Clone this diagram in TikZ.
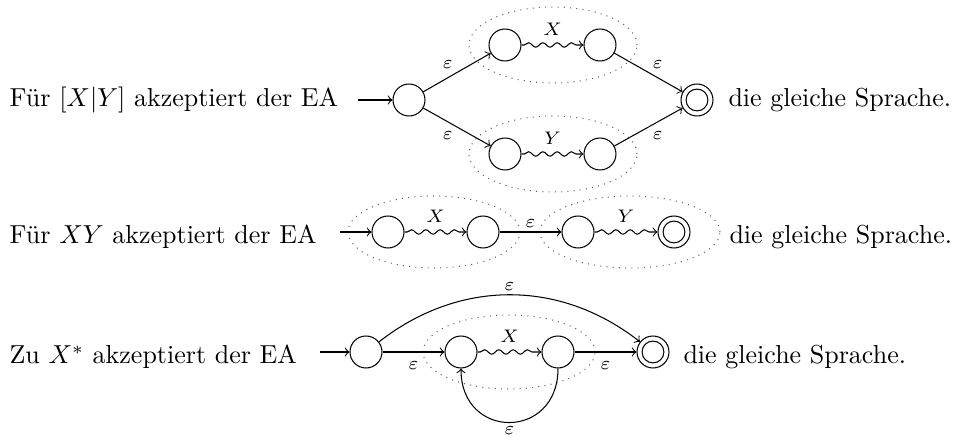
\documentclass[tikz,border=0pt]{standalone}
\usetikzlibrary{decorations.pathmorphing}
\begin{document}
\begin{tikzpicture}[x=0.3846pt,y=0.3846pt,
  state/.style={circle,draw,minimum size=12.3pt,inner sep=0pt},
  accstate/.style={state,path picture={\draw (path picture bounding box.center) circle[radius=4.2pt];}},
  wave/.style={->,decorate,decoration={snake,amplitude=0.85pt,segment length=5.5pt,pre length=1pt,post length=2.5pt}},
  lbl/.style={font=\scriptsize,inner sep=1.5pt},
  grp/.style={dotted,black!60},
  txt/.style={anchor=base west,inner sep=0pt}]
\useasboundingbox (0,0) rectangle (954,-444);
% ---------- row 1 ----------
\draw[grp] (553,-45) ellipse [x radius=84, y radius=38];
\draw[grp] (553,-154) ellipse [x radius=84, y radius=38];
\node[txt] (t1) at (9,-107) {Für $[X|Y]$ akzeptiert der EA};
\coordinate (i1) at (358,-100);
\node[state] (s1) at (409,-100) {};
\node[state] (a1) at (505,-45) {};
\node[state] (a2) at (600,-45) {};
\node[state] (b1) at (505,-154) {};
\node[state] (b2) at (600,-154) {};
\node[accstate] (f1) at (697,-100) {};
\node[txt] (u1) at (728,-107) {die gleiche Sprache.};
\draw[->] (i1) -- (s1);
\draw[->] (s1) -- node[lbl,above left]{$\varepsilon$} (a1);
\draw[->] (s1) -- node[lbl,below left]{$\varepsilon$} (b1);
\draw[wave] (a1) -- node[lbl,above=2pt]{$X$} (a2);
\draw[wave] (b1) -- node[lbl,above=2pt]{$Y$} (b2);
\draw[->] (a2) -- node[lbl,above right]{$\varepsilon$} (f1);
\draw[->] (b2) -- node[lbl,below right]{$\varepsilon$} (f1);
% ---------- row 2 ----------
\draw[grp] (434,-232) ellipse [x radius=86, y radius=36];
\draw[grp] (630,-232) ellipse [x radius=90, y radius=36];
\node[txt] (t2) at (9,-244) {Für $XY$ akzeptiert der EA};
\coordinate (i2) at (340,-232);
\node[state] (c1) at (388,-232) {};
\node[state] (c2) at (483,-232) {};
\node[state] (c3) at (578,-232) {};
\node[accstate] (f2) at (674,-232) {};
\node[txt] (u2) at (729,-244) {die gleiche Sprache.};
\draw[->] (i2) -- (c1);
\draw[wave] (c1) -- node[lbl,above=2pt]{$X$} (c2);
\draw[->] (c2) -- node[lbl,above]{$\varepsilon$} (c3);
\draw[wave] (c3) -- node[lbl,above=2pt]{$Y$} (f2);
% ---------- row 3 ----------
\draw[grp] (509,-352) ellipse [x radius=86, y radius=37];
\node[txt] (t3) at (9,-364) {Zu $X^*$ akzeptiert der EA};
\coordinate (i3) at (320,-352);
\node[state] (d0) at (366,-352) {};
\node[state] (d1) at (461,-352) {};
\node[state] (d2) at (558,-352) {};
\node[accstate] (f3) at (653,-352) {};
\node[txt] (u3) at (683,-364) {die gleiche Sprache.};
\draw[->] (i3) -- (d0);
\draw[->] (d0) -- node[lbl,below=2pt]{$\varepsilon$} (d1);
\draw[wave] (d1) -- node[lbl,above=2pt]{$X$} (d2);
\draw[->] (d2) -- node[lbl,below=2pt]{$\varepsilon$} (f3);
\draw[->] (d0) to[bend left=38] node[lbl,above]{$\varepsilon$} (f3);
\draw[->] (d2) to[out=-90,in=-90,looseness=1.9] node[lbl,below]{$\varepsilon$} (d1);
\end{tikzpicture}
\end{document}
